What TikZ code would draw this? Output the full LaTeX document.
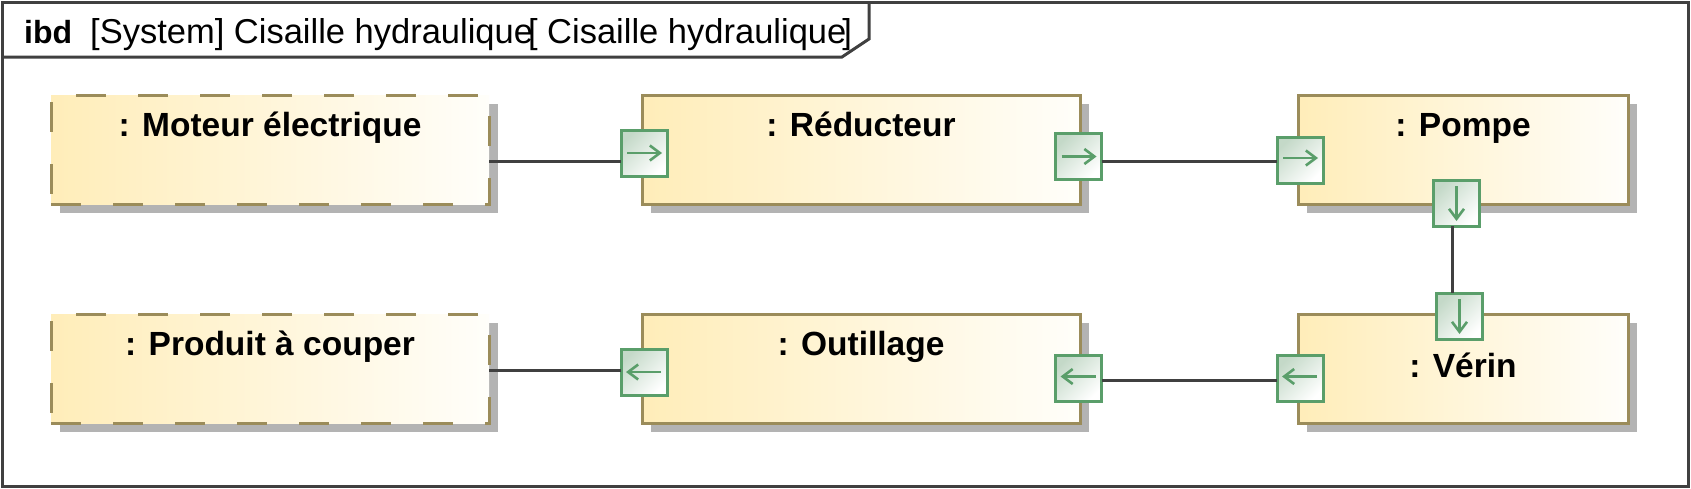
\documentclass[tikz,border=0pt]{standalone}
\usepackage{fontspec}
\setmainfont{Liberation Sans}
\usetikzlibrary{arrows.meta,shadows,calc}
\definecolor{frameline}{RGB}{64,64,64}
\definecolor{partborder}{RGB}{155,140,90}
\definecolor{partyellow}{RGB}{255,237,185}
\definecolor{partwhite}{RGB}{255,254,250}
\definecolor{shadowgray}{RGB}{179,179,179}
\definecolor{portborder}{RGB}{90,158,106}
\definecolor{portfill}{RGB}{196,217,200}
\definecolor{connline}{RGB}{64,64,64}
\begin{document}
\begin{tikzpicture}[x=1pt,y=-1pt,
  frame/.style={draw=frameline, line width=3pt},
  part/.style={draw=partborder, line width=3pt, left color=partyellow, right color=partwhite,
    minimum height=109pt, inner sep=0pt, outer sep=0pt, anchor=north west,
    drop shadow={shadow xshift=9pt, shadow yshift=-9pt, fill=shadowgray, opacity=1}},
  widepart/.style={part, minimum width=438pt},
  narrowpart/.style={part, minimum width=330pt},
  dashedpart/.style={dash pattern=on 30pt off 32pt},
  partlabel/.style={anchor=base, inner sep=0pt, font=\fontsize{33.5}{40}\selectfont\bfseries},
  port/.style={draw=portborder, line width=3pt, top color=portfill, bottom color=white, shading angle=45,
    minimum size=46pt, inner sep=0pt, outer sep=0pt},
  parrow/.style={draw=portborder, line width=2.6pt, -{Straight Barb[length=10pt,width=15pt]}},
  conn/.style={draw=connline, line width=3pt},
  titlefont/.style={anchor=base west, inner sep=0pt, font=\fontsize{34.5}{40}\selectfont}
]
\useasboundingbox (0,0) rectangle (1691,488);
\fill[white] (0,0) rectangle (1691,488);

% frame and title tab
\draw[frame] (2,2) rectangle (1688,486);
\draw[frame] (2,57) -- (842,57) -- (869,39) -- (869,2);
\node[titlefont, font=\fontsize{32}{38}\selectfont\bfseries] (ibd) at (24,43) {ibd};
\node[titlefont] (ttl) at (90,43) {[System] Cisaille hydraulique\kern-5pt[ Cisaille hydraulique\kern-4pt]};

% parts
\node[widepart, dashedpart] (mot) at (51,95) {};
\node[widepart, dashedpart] (prod) at (51,314) {};
\node[widepart] (red) at (642,95) {};
\node[widepart] (out) at (642,314) {};
\node[narrowpart] (pom) at (1298,95) {};
\node[narrowpart] (ver) at (1298,314) {};

\node[partlabel] (motl) at (270,136) {: Moteur électrique};
\node[partlabel] (prodl) at (270,355) {: Produit à couper};
\node[partlabel] (redl) at (861,136) {: Réducteur};
\node[partlabel] (outl) at (861,355) {: Outillage};
\node[partlabel] (poml) at (1463,136) {: Pompe};
\node[partlabel] (verl) at (1463,377) {: Vérin};

% connector guide coordinates
\coordinate (row1) at (0,161.5);
\coordinate (row2) at (0,380);
\coordinate (row3) at (0,370.5);
\coordinate (col) at (1452,0);

% ports
\node[port] (rL) at (644,153) {};
\node[port] (rR) at (1078.5,156.5) {};
\node[port] (pL) at (1300,160) {};
\node[port] (pB) at (1456.5,203) {};
\node[port] (vT) at (1459.5,316) {};
\node[port] (vL) at (1300,378.5) {};
\node[port] (oR) at (1078.5,378.5) {};
\node[port] (oL) at (644,372) {};

% port direction arrows
\draw[parrow] ([xshift=-17pt]rL.center) -- ([xshift=18pt]rL.center);
\draw[parrow] ([xshift=-17pt]rR.center) -- ([xshift=18pt]rR.center);
\draw[parrow] ([xshift=-17pt,yshift=2pt]pL.center) -- ([xshift=18pt,yshift=2pt]pL.center);
\draw[parrow] ([yshift=17pt]pB.center) -- ([yshift=-18pt]pB.center);
\draw[parrow] ([yshift=17pt]vT.center) -- ([yshift=-18pt]vT.center);
\draw[parrow] ([xshift=17pt,yshift=2pt]vL.center) -- ([xshift=-18pt,yshift=2pt]vL.center);
\draw[parrow] ([xshift=17pt,yshift=2pt]oR.center) -- ([xshift=-18pt,yshift=2pt]oR.center);
\draw[parrow] ([xshift=17pt]oL.center) -- ([xshift=-18pt]oL.center);

% connectors
\draw[conn] (mot.east |- row1) -- (rL.west |- row1);
\draw[conn] (rR.east |- row1) -- (pL.west |- row1);
\draw[conn] (pB.south -| col) -- (vT.north -| col);
\draw[conn] (vL.west |- row2) -- (oR.east |- row2);
\draw[conn] (oL.west |- row3) -- (prod.east |- row3);
\end{tikzpicture}
\end{document}
